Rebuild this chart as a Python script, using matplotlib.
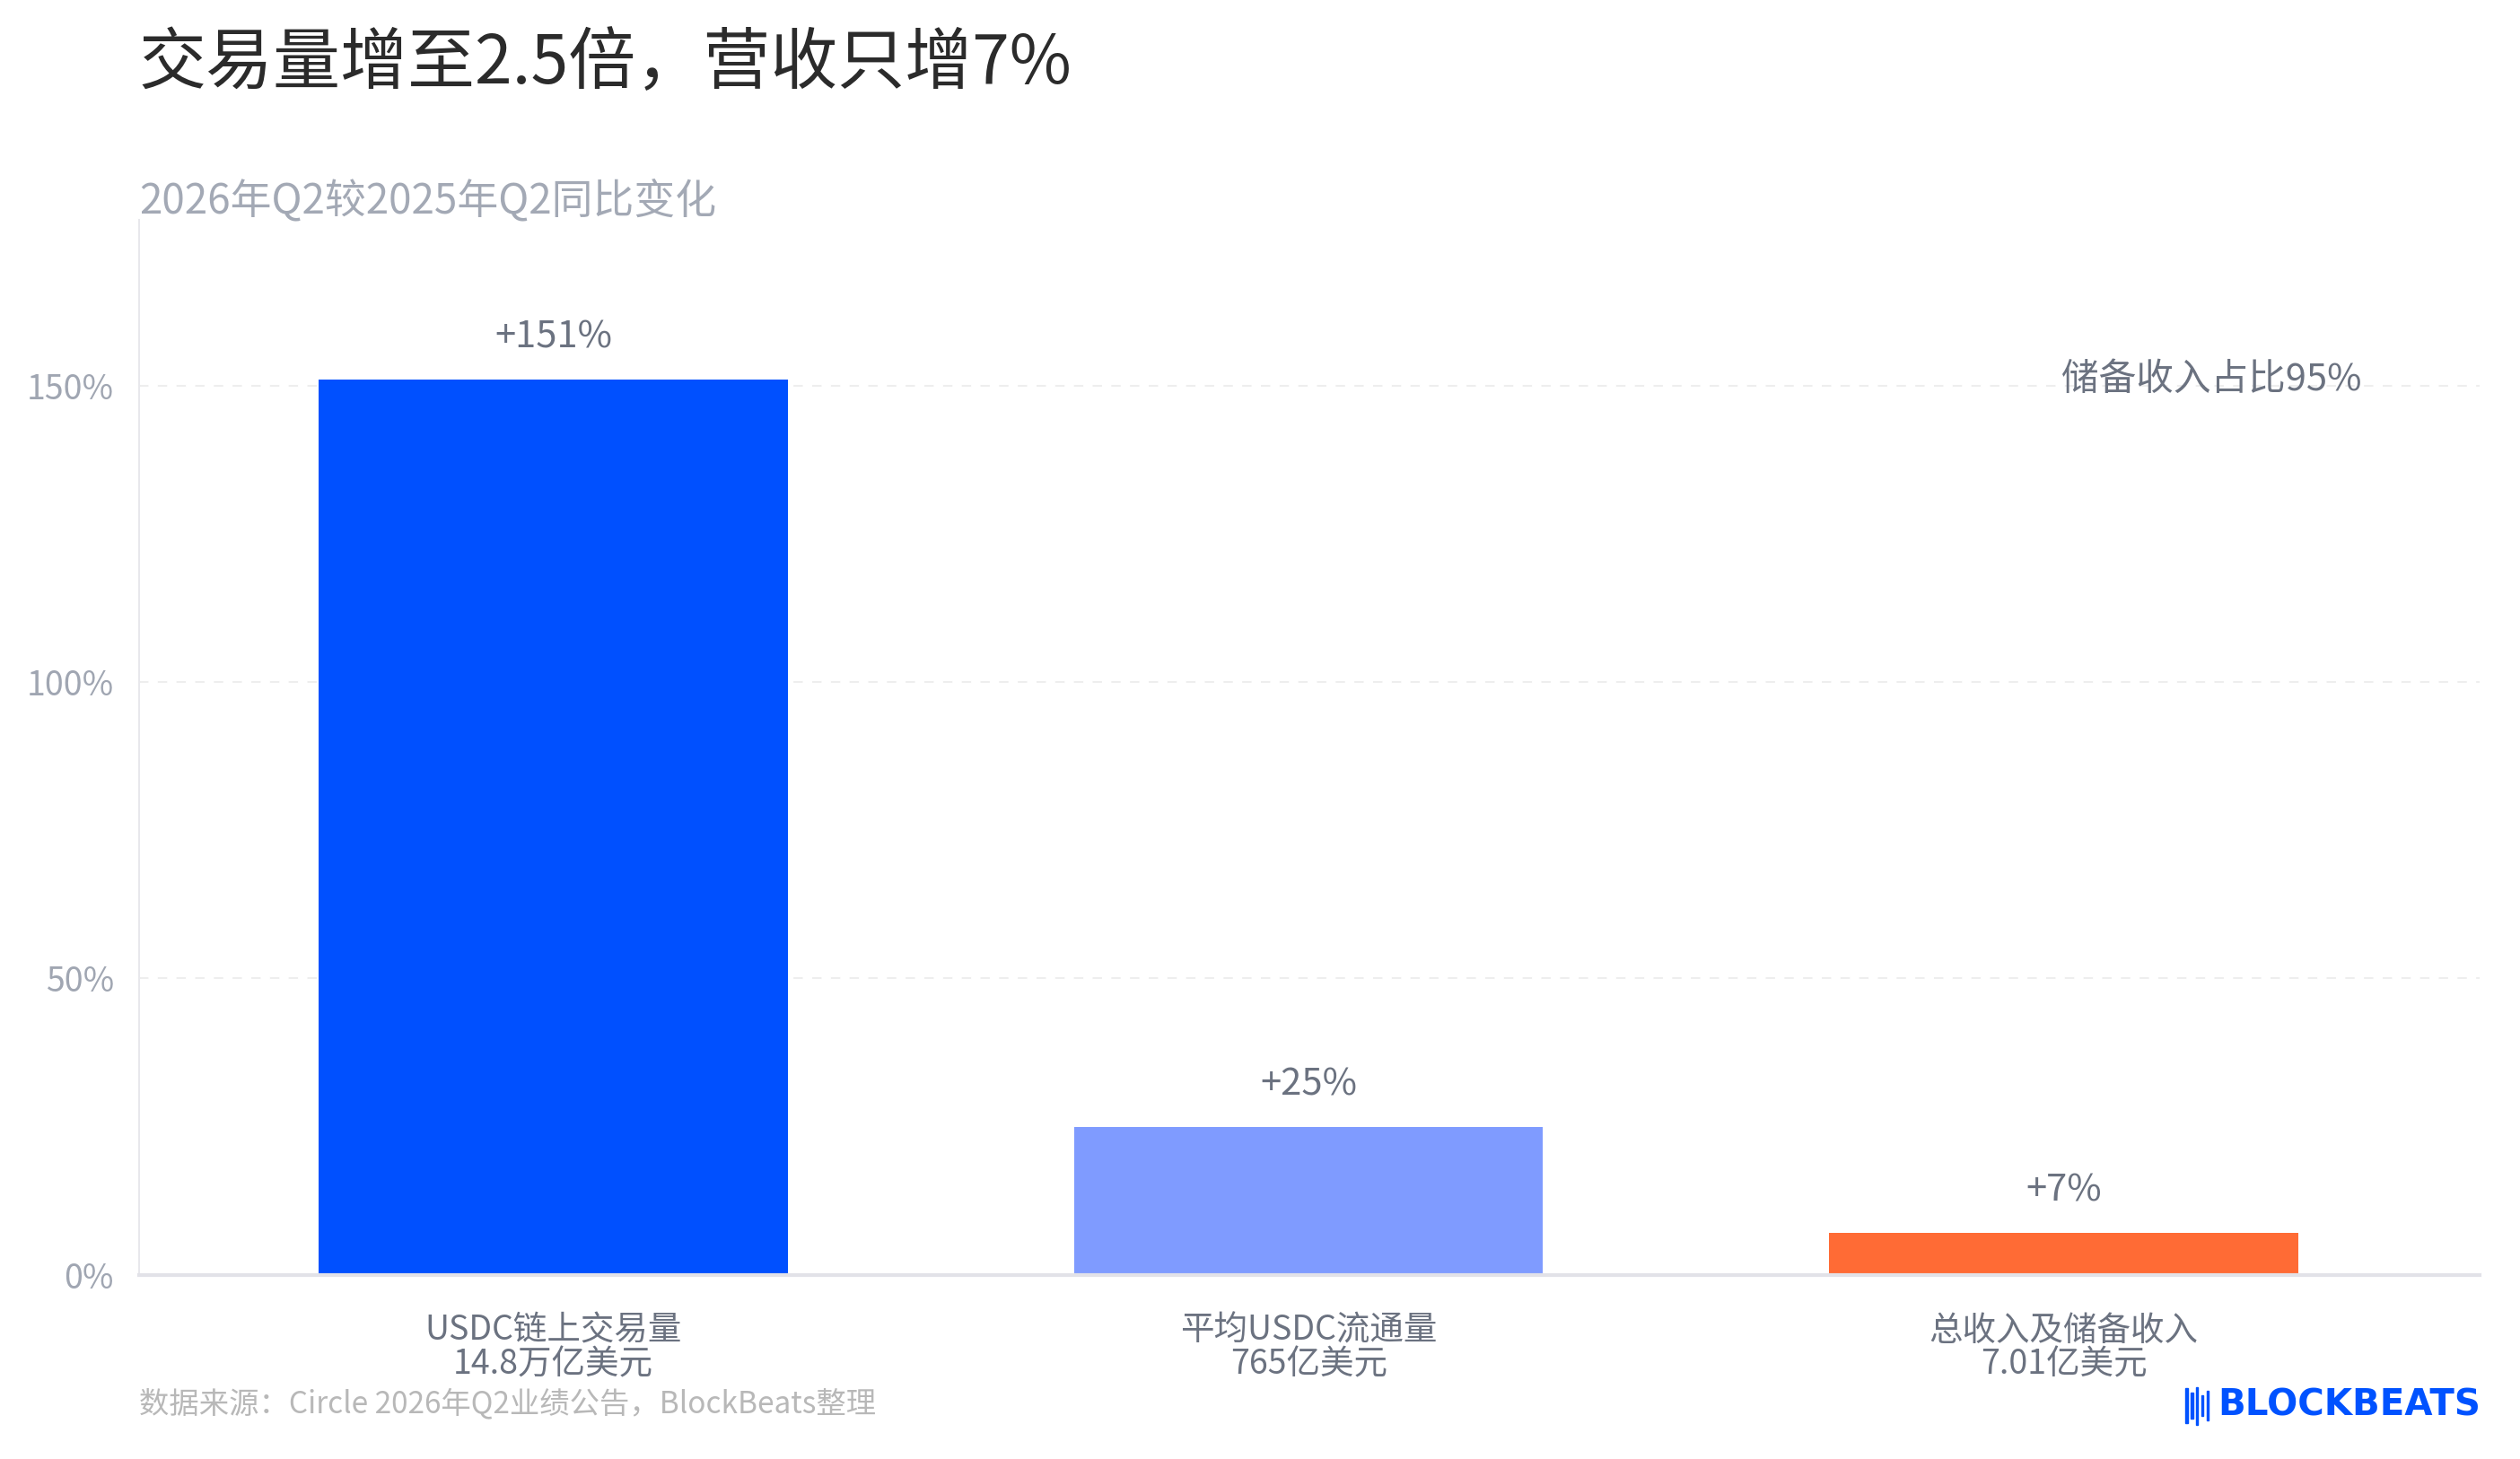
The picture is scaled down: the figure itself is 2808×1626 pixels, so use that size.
import matplotlib.pyplot as plt
import numpy as np

plt.rcParams['font.family'] = ['Noto Sans CJK SC', 'DejaVu Sans']

# 数据
categories = ['USDC链上交易量\n14.8万亿美元', '平均USDC流通量\n765亿美元', '总收入及储备收入\n7.01亿美元']
values = [151, 25, 7]
value_labels = ['+151%', '+25%', '+7%']
bar_colors = ['#0050FF', '#7F9BFF', '#FF6B35']
yticks = [0, 50, 100, 150]
ytick_labels = ['0%', '50%', '100%', '150%']
note_text = '储备收入占比95%'

fig = plt.figure(figsize=(28.08, 16.26), dpi=100)
ax = fig.add_axes([0.0551, 0.1263, 0.929, 0.723])

x = np.arange(len(categories))
ax.bar(x, values, width=0.621, color=bar_colors, zorder=3)

for xi, v, lab in zip(x, values, value_labels):
    ax.annotate(lab, (xi, v), xytext=(0, 47), textcoords='offset pixels',
                ha='center', va='center', fontsize=30, color='#6B7280')

# 右上角注释
ax.text(2.196, 151, note_text, ha='center', va='center', fontsize=30, color='#6B7280')

ax.set_xlim(-0.549, 2.551)
ax.set_ylim(0, 178)
ax.set_xticks(x)
ax.set_xticklabels(categories, fontsize=27, color='#6B7280', linespacing=0.95)
ax.set_yticks(yticks)
ax.set_yticklabels(ytick_labels, fontsize=27, color='#A0A6B2')
ax.tick_params(axis='both', length=0)
ax.tick_params(axis='x', pad=31)
ax.tick_params(axis='y', pad=20)

for y in yticks[1:]:
    ax.axhline(y, color='#EEEEEE', lw=1.5, ls=(0, (5, 5)), zorder=1)

for s in ['top', 'right']:
    ax.spines[s].set_visible(False)
ax.spines['left'].set_color('#E8E8EC')
ax.spines['left'].set_linewidth(1.5)
ax.spines['bottom'].set_color('#E2E2E8')
ax.spines['bottom'].set_linewidth(3)
ax.spines['bottom'].set_zorder(4)

# 标题和副标题
fig.text(0.0551, 0.956, '交易量增至2.5倍，营收只增7%', fontsize=54, color='#2B2B2B',
         ha='left', va='center')
fig.text(0.0551, 0.862, '2026年Q2较2025年Q2同比变化', fontsize=33, color='#A3A9B5',
         ha='left', va='center')

# 来源
fig.text(0.0551, 0.0375, '数据来源：Circle 2026年Q2业绩公告，BlockBeats整理', fontsize=24,
         color='#B8B8B8', ha='left', va='center')

# logo
fig.text(0.9845, 0.0365, 'BLOCKBEATS', fontsize=29, color='#0052FF', fontweight='bold',
         family=['DejaVu Sans'], ha='right', va='center')
for i, h in enumerate([0.024, 0.018, 0.026, 0.014, 0.020]):
    fig.add_artist(plt.Rectangle((0.8672 + i * 0.0021, 0.0365 - h / 2), 0.0009, h,
                                 transform=fig.transFigure, color='#0052FF'))

fig.savefig('out.png', dpi=100)
